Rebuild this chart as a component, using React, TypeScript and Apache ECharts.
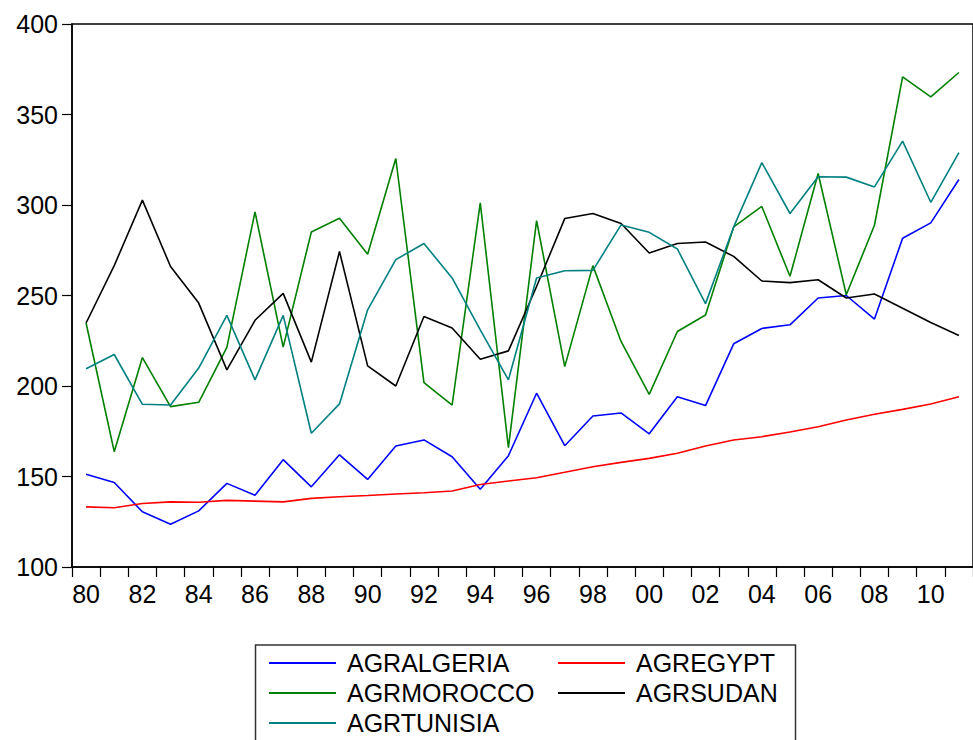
import React, { useEffect, useRef } from "react";
import * as echarts from "echarts";

const years = [
  "80","81","82","83","84","85","86","87","88","89",
  "90","91","92","93","94","95","96","97","98","99",
  "00","01","02","03","04","05","06","07","08","09",
  "10","11",
];

const agrAlgeria = [
  151.2, 146.7, 130.5, 123.6, 131, 146.2, 139.7, 159.3, 144.3, 162,
  148.4, 166.8, 170.2, 160.9, 143, 161.5, 196, 167, 183.4, 185.1,
  173.6, 194, 189.2, 223.3, 231.8, 233.8, 248.6, 250, 237, 281.6,
  290.1, 314.1,
];
const agrEgypt = [
  133.2, 132.7, 135.1, 136, 135.8, 136.8, 136.4, 136, 137.9, 138.8,
  139.5, 140.3, 141, 142, 145.6, 147.5, 149.3, 152.3, 155.4, 157.8,
  160, 162.8, 166.8, 170.2, 172, 174.6, 177.5, 181.2, 184.4, 187.1,
  190.1, 194.1,
];
const agrMorocco = [
  234.8, 163.7, 215.7, 188.6, 191, 221.3, 296.2, 221.5, 285.1, 292.7,
  272.8, 325.7, 201.9, 189.5, 301.2, 165.9, 291.4, 210.7, 266.5, 224.6,
  195.4, 230.1, 239.2, 287.9, 299.2, 260.6, 317.4, 250.4, 288.8, 370.8,
  359.7, 373.2,
];
const agrSudan = [
  234.8, 266.5, 302.7, 266, 245.8, 208.9, 236.3, 251.2, 213.2, 274.3,
  211.1, 200, 238.4, 232, 214.8, 219.4, 255, 292.5, 295.3, 289.8,
  273.5, 278.7, 279.6, 271.6, 258, 257.1, 258.7, 248.6, 250.8, 243,
  235.1, 227.9,
];
const agrTunisia = [
  209.5, 217.4, 189.9, 189.5, 209.9, 239, 203.4, 239, 173.9, 190.1,
  242.1, 269.8, 278.7, 259.7, 231, 203.4, 259.7, 263.7, 263.9, 289,
  284.9, 275.7, 245.5, 287.9, 323.4, 295.3, 315.6, 315.4, 310, 335.3,
  301.5, 328.9,
];

const seriesNames = ["AGRALGERIA", "AGREGYPT", "AGRMOROCCO", "AGRSUDAN", "AGRTUNISIA"];
const seriesColors = ["#0000FF", "#FF0000", "#008000", "#000000", "#008080"];
const seriesData = [agrAlgeria, agrEgypt, agrMorocco, agrSudan, agrTunisia];

const FONT = "'Liberation Sans', Arial, sans-serif";

export default function App() {
  const ref = useRef<HTMLDivElement>(null);

  useEffect(() => {
    if (!ref.current) return;
    const chart = echarts.init(ref.current, undefined, { renderer: "svg" });
    const legendCommon = {
      orient: "vertical" as const,
      icon: "rect",
      itemWidth: 67,
      itemHeight: 2,
      itemGap: 0,
      padding: 0,
      height: 120,
      selectedMode: false,
      textStyle: {
        fontFamily: FONT,
        fontSize: 25,
        color: "#000",
        lineHeight: 30,
        padding: [0, 0, 0, 6],
      },
    };
    chart.setOption({
      animation: false,
      backgroundColor: "#fff",
      grid: {
        left: 72,
        top: 24,
        width: 906,
        height: 543,
        show: true,
        borderColor: "#000",
        borderWidth: 1.5,
      },
      xAxis: {
        type: "category",
        data: years,
        boundaryGap: true,
        axisLine: { show: true, lineStyle: { color: "#000", width: 1.5 } },
        axisTick: { show: true, interval: 0, length: 10, lineStyle: { color: "#000", width: 1.2 } },
        axisLabel: {
          interval: 1,
          fontFamily: FONT,
          fontSize: 25,
          color: "#000",
          margin: 14,
        },
        splitLine: { show: false },
      },
      yAxis: {
        type: "value",
        min: 100,
        max: 400,
        interval: 50,
        axisLine: { show: true, lineStyle: { color: "#000", width: 1.5 } },
        axisTick: { show: true, length: 10, lineStyle: { color: "#000", width: 1.2 } },
        axisLabel: {
          fontFamily: FONT,
          fontSize: 25,
          color: "#000",
          margin: 14,
        },
        splitLine: { show: false },
      },
      legend: [
        {
          ...legendCommon,
          data: [seriesNames[0], seriesNames[2], seriesNames[4]],
          left: 269,
          top: 648,
        },
        {
          ...legendCommon,
          data: [seriesNames[1], seriesNames[3]],
          left: 558,
          top: 648,
        },
      ],
      graphic: [
        {
          type: "rect",
          shape: { x: 255.5, y: 645, width: 540, height: 140 },
          style: { fill: "none", stroke: "#333", lineWidth: 1.5 },
          silent: true,
        },
      ],
      series: seriesNames.map((name, i) => ({
        name,
        type: "line",
        data: seriesData[i],
        symbol: "none",
        showSymbol: false,
        lineStyle: { color: seriesColors[i], width: 1.6 },
        itemStyle: { color: seriesColors[i] },
      })),
    });
    return () => chart.dispose();
  }, []);

  return (
    <div style={{ position: "fixed", left: 0, top: 0, width: 973, height: 740, overflow: "hidden", background: "#fff" }}>
      <div ref={ref} style={{ width: 973, height: 800 }} />
    </div>
  );
}
